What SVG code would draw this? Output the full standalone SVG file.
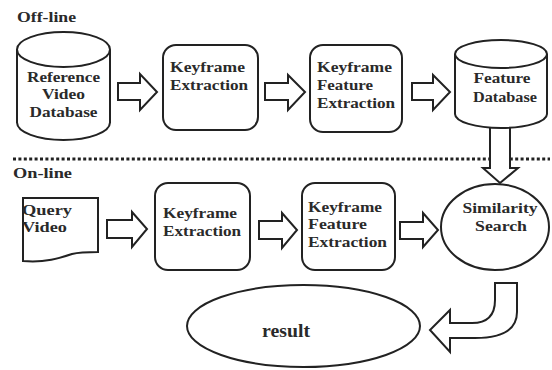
<svg xmlns="http://www.w3.org/2000/svg" width="552" height="370" viewBox="0 0 552 370">
<style>
.s{fill:#fff;stroke:#222;stroke-width:2}
.t{font-family:"Liberation Serif","Times New Roman",serif;font-weight:bold;font-size:14px;fill:#2a2a2a}
.h{font-family:"Liberation Serif","Times New Roman",serif;font-weight:bold;font-size:14px;fill:#2a2a2a}
.c{text-anchor:middle}
</style>
<rect width="552" height="370" fill="#fff"/>
<text class="h" x="17" y="22" textLength="59" lengthAdjust="spacingAndGlyphs">Off-line</text>
<text class="h" x="13" y="178" textLength="59" lengthAdjust="spacingAndGlyphs">On-line</text>
<line x1="13" y1="159" x2="550" y2="159" stroke="#222" stroke-width="3" stroke-dasharray="3,2.4"/>

<g id="connectors">
<path class="s" d="M118 83 H140 V74 L157 92 L140 110 V100 H118 Z"/>
<path class="s" d="M265 83 H288 V75 L305 92 L288 110 V100 H265 Z"/>
<path class="s" d="M412 83 H433 V75 L450 92 L433 110 V100 H412 Z"/>
<path class="s" d="M490 128 V168 H483 L500 183 L518 168 H510 V128"/>
<path class="s" d="M107 220 H132 V212 L147 229 L132 247 V238 H107 Z"/>
<path class="s" d="M259 221 H282 V213 L297 230 L282 248 V239 H259 Z"/>
<path class="s" d="M400 222 H423 V213 L438 230 L423 247 V239 H400 Z"/>
<path class="s" d="M495 283 L517 283 L517 312 Q517 338 475 338 L450 338 L450 352 L430 330 L450 310 L450 323 L472 323 Q495 323 495 300 Z"/>
</g>

<g id="ref-db">
<path class="s" d="M17 49.5 V122.5 A46.5 17.5 0 0 0 110 122.5 V49.5"/>
<ellipse class="s" cx="63.5" cy="49.5" rx="46.5" ry="17.5"/>
<text class="t c" x="63.5" y="82" textLength="73" lengthAdjust="spacingAndGlyphs">Reference</text>
<text class="t c" x="63.5" y="99" textLength="43" lengthAdjust="spacingAndGlyphs">Video</text>
<text class="t c" x="63.5" y="117" textLength="68" lengthAdjust="spacingAndGlyphs">Database</text>
</g>

<g id="kf1">
<rect class="s" x="163" y="45" width="95" height="85" rx="13"/>
<text class="t" x="170" y="72" textLength="75" lengthAdjust="spacingAndGlyphs">Keyframe</text>
<text class="t" x="170" y="90" textLength="78" lengthAdjust="spacingAndGlyphs">Extraction</text>
</g>

<g id="kff1">
<rect class="s" x="310" y="45" width="92" height="87" rx="13"/>
<text class="t" x="317" y="72" textLength="75" lengthAdjust="spacingAndGlyphs">Keyframe</text>
<text class="t" x="317" y="90" textLength="56" lengthAdjust="spacingAndGlyphs">Feature</text>
<text class="t" x="317" y="108" textLength="78" lengthAdjust="spacingAndGlyphs">Extraction</text>
</g>

<g id="feat-db">
<path class="s" d="M455 54 V114 A46 14 0 0 0 547 114 V54"/>
<ellipse class="s" cx="501" cy="54" rx="46" ry="14"/>
<text class="t c" x="502" y="83" textLength="57" lengthAdjust="spacingAndGlyphs">Feature</text>
<text class="t c" x="505" y="102" textLength="64" lengthAdjust="spacingAndGlyphs">Database</text>
</g>

<g id="query">
<path class="s" d="M23 198 H98 V252 C90 252 80 252 72 254 C60 258 45 263 23 261 Z"/>
<text class="t" x="22" y="215" textLength="50" lengthAdjust="spacingAndGlyphs">Query</text>
<text class="t" x="22" y="232" textLength="45" lengthAdjust="spacingAndGlyphs">Video</text>
</g>

<g id="kf2">
<rect class="s" x="155" y="183" width="95" height="87" rx="13"/>
<text class="t" x="163" y="218" textLength="74" lengthAdjust="spacingAndGlyphs">Keyframe</text>
<text class="t" x="163" y="236" textLength="78" lengthAdjust="spacingAndGlyphs">Extraction</text>
</g>

<g id="kff2">
<rect class="s" x="302" y="183" width="93" height="87" rx="13"/>
<text class="t" x="308" y="212" textLength="74" lengthAdjust="spacingAndGlyphs">Keyframe</text>
<text class="t" x="308" y="229" textLength="59" lengthAdjust="spacingAndGlyphs">Feature</text>
<text class="t" x="308" y="247" textLength="79" lengthAdjust="spacingAndGlyphs">Extraction</text>
</g>

<g id="sim">
<ellipse class="s" cx="495" cy="227" rx="54" ry="43"/>
<text class="t c" x="500" y="213" textLength="75" lengthAdjust="spacingAndGlyphs">Similarity</text>
<text class="t c" x="501" y="231" textLength="52" lengthAdjust="spacingAndGlyphs">Search</text>
</g>

<g id="result">
<ellipse class="s" cx="303.5" cy="326" rx="116.5" ry="41"/>
<text class="t c" x="286" y="337" style="font-size:18px" textLength="48" lengthAdjust="spacingAndGlyphs">result</text>
</g>
</svg>
